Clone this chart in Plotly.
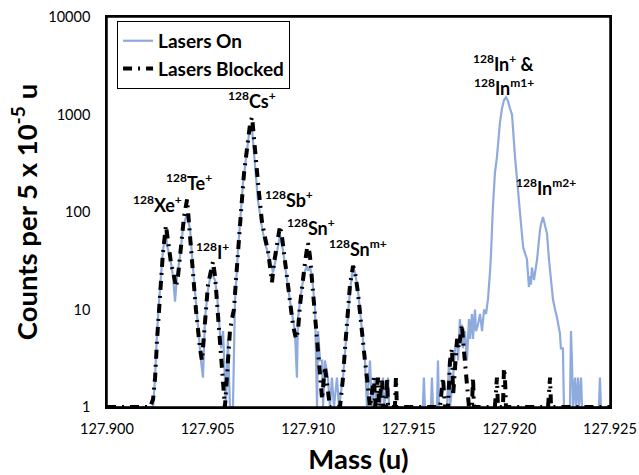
import plotly.graph_objects as go
import math

# ---- Lasers On (mass in u, counts per 5e-5 u) ----
on_mass = [
    127.90000, 127.90214, 127.90229, 127.90239, 127.90249, 127.90263, 127.90278, 127.90293,
    127.90298, 127.90313, 127.90328, 127.90338, 127.90348, 127.90363, 127.90378, 127.90398,
    127.90413, 127.90427, 127.90437, 127.90447, 127.90457, 127.90467, 127.90477, 127.90487,
    127.90502, 127.90512, 127.90522, 127.90527, 127.90537, 127.90547, 127.90557, 127.90567,
    127.90577, 127.90586, 127.90591, 127.90601, 127.90611, 127.90626, 127.90636, 127.90651,
    127.90666, 127.90676, 127.90696, 127.90711, 127.90721, 127.90736, 127.90750, 127.90770,
    127.90785, 127.90800, 127.90810, 127.90820, 127.90825, 127.90835, 127.90845, 127.90860,
    127.90875, 127.90885, 127.90895, 127.90910, 127.90924, 127.90934, 127.90944, 127.90949,
    127.90959, 127.90969, 127.90984, 127.90994, 127.90999, 127.91009, 127.91019, 127.91034,
    127.91044, 127.91049, 127.91059, 127.91069, 127.91074, 127.91083, 127.91098, 127.91108,
    127.91118, 127.91128, 127.91143, 127.91153, 127.91173, 127.91183, 127.91198, 127.91208,
    127.91223, 127.91233, 127.91247, 127.91257, 127.91272, 127.91282, 127.91292, 127.91307,
    127.91317, 127.91332, 127.91337, 127.91357, 127.91372, 127.91377, 127.91397, 127.91402,
    127.91570, 127.91575, 127.91580, 127.91610, 127.91615, 127.91620, 127.91640, 127.91645,
    127.91650, 127.91690, 127.91700, 127.91705, 127.91720, 127.91730, 127.91740, 127.91745,
    127.91754, 127.91759, 127.91764, 127.91769, 127.91779, 127.91789, 127.91799, 127.91804,
    127.91814, 127.91819, 127.91829, 127.91834, 127.91844, 127.91854, 127.91864, 127.91874,
    127.91884, 127.91894, 127.91904, 127.91908, 127.91918, 127.91928, 127.91938, 127.91953,
    127.91963, 127.91973, 127.91983, 127.91993, 127.92003, 127.92013, 127.92028, 127.92038,
    127.92053, 127.92068, 127.92077, 127.92087, 127.92097, 127.92102, 127.92107, 127.92112,
    127.92122, 127.92127, 127.92137, 127.92152, 127.92157, 127.92167, 127.92177, 127.92187,
    127.92197, 127.92202, 127.92217, 127.92227, 127.92236, 127.92251, 127.92256, 127.92266,
    127.92271, 127.92301, 127.92306, 127.92311, 127.92316, 127.92326, 127.92331, 127.92341,
    127.92346, 127.92356, 127.92361, 127.92445, 127.92450, 127.92455, 127.92500,
]
on_counts = [
    1, 1, 1, 2, 6, 16, 40, 65,
    45, 35, 22, 12, 22, 35, 70, 97,
    65, 27, 15, 10, 5, 3, 2, 8,
    16, 22, 27, 22, 20, 14, 8, 4,
    6, 2, 1, 5, 1, 1, 12, 40,
    120, 200, 430, 780, 700, 290, 133, 70,
    48, 38, 30, 27, 24, 30, 40, 58,
    40, 28, 22, 12, 8, 6, 2, 8,
    12, 17, 25, 28, 25, 27, 22, 10,
    1, 6, 3, 3, 1, 3, 2, 1,
    2, 1, 2, 1, 2, 4, 9, 16,
    27, 24, 16, 10, 5, 3, 1, 3,
    1, 2, 1, 1, 2, 1, 2, 1,
    1, 2, 1, 1, 2, 1, 1, 3,
    1, 1, 3, 1, 2, 4, 5, 3,
    8, 5, 7, 4, 6, 3, 8, 5,
    9, 5, 10, 6, 7, 9, 6, 10,
    9, 13, 25, 35, 112, 250, 366, 820,
    1150, 1400, 1500, 1380, 1150, 1000, 366, 212,
    90, 44, 38, 33, 17, 22, 18, 27,
    20, 24, 32, 65, 75, 89, 75, 60,
    32, 24, 12.5, 10, 8.4, 5.7, 4, 4,
    1, 1, 6, 3, 1, 2, 1, 2,
    1, 2, 1, 1, 2, 1, 1,
]

# ---- Lasers Blocked ----
blk_mass = [
    127.90000, 127.90214, 127.90229, 127.90239, 127.90249, 127.90263, 127.90278, 127.90293,
    127.90303, 127.90318, 127.90333, 127.90343, 127.90353, 127.90368, 127.90383, 127.90398,
    127.90408, 127.90422, 127.90432, 127.90442, 127.90452, 127.90462, 127.90472, 127.90482,
    127.90492, 127.90502, 127.90517, 127.90527, 127.90537, 127.90547, 127.90557, 127.90567,
    127.90577, 127.90586, 127.90596, 127.90606, 127.90611, 127.90621, 127.90631, 127.90641,
    127.90651, 127.90666, 127.90681, 127.90696, 127.90711, 127.90721, 127.90731, 127.90741,
    127.90755, 127.90770, 127.90785, 127.90800, 127.90810, 127.90820, 127.90830, 127.90845,
    127.90860, 127.90870, 127.90885, 127.90900, 127.90910, 127.90924, 127.90939, 127.90949,
    127.90959, 127.90969, 127.90984, 127.90994, 127.90999, 127.91009, 127.91019, 127.91029,
    127.91039, 127.91049, 127.91059, 127.91069, 127.91083, 127.91098, 127.91108, 127.91158,
    127.91173, 127.91183, 127.91198, 127.91208, 127.91223, 127.91233, 127.91247, 127.91257,
    127.91272, 127.91282, 127.91292, 127.91307, 127.91327, 127.91332, 127.91347, 127.91352,
    127.91367, 127.91372, 127.91387, 127.91392, 127.91397, 127.91431, 127.91436, 127.91441,
    127.91655, 127.91670, 127.91680, 127.91695, 127.91705, 127.91715, 127.91720, 127.91730,
    127.91740, 127.91749, 127.91759, 127.91764, 127.91769, 127.91779, 127.91789, 127.91799,
    127.91814, 127.91819, 127.91824, 127.91928, 127.91938, 127.91943, 127.91968, 127.91973,
    127.91978, 127.91983, 127.92192, 127.92202, 127.92207, 127.92500,
]
blk_counts = [
    1, 1, 1.2, 2, 5, 14, 38, 73,
    50, 30, 22, 17, 22, 45, 90, 135,
    80, 35, 18, 10, 6, 4, 3, 6,
    10, 18, 25, 31, 22, 12, 6, 3,
    2, 1, 2, 4, 6, 8, 10, 20,
    35, 100, 250, 500, 800, 940, 600, 330,
    160, 80, 55, 40, 28, 19, 30, 50,
    72, 55, 32, 18, 12, 7, 5, 6,
    11, 18, 30, 42, 48, 35, 20, 12,
    7, 4, 2.5, 1.2, 2.6, 1.5, 1, 1,
    2, 4, 10, 18, 28, 24, 15, 9,
    5, 3, 2, 1, 2, 1, 2, 1,
    2, 1, 1, 2, 1, 1, 2, 1,
    1, 2, 1, 1, 3, 4, 1.3, 3,
    5, 4, 6, 7, 5, 3, 2, 1,
    1, 2, 1, 1, 2, 1, 1, 2.5,
    2, 1, 1, 2, 1, 1,
]

x_ticks = [127.900, 127.905, 127.910, 127.915, 127.920, 127.925]
x_ticktext = ["127.900", "127.905", "127.910", "127.915", "127.920", "127.925"]
y_ticks = [1, 10, 100, 1000, 10000]
y_ticktext = ["1", "10", "100", "1000", "10000"]

# peak labels: (mass, counts, isotope text)
label_mass = [127.90253, 127.90408, 127.90522, 127.90721, 127.90905, 127.91014,
              127.91247, 127.91973, 127.91973, 127.92182]
label_counts = [120, 204, 40, 1410, 135, 71, 43, 3400, 1900, 182]
label_base = ["Xe", "Te", "I", "Cs", "Sb", "Sn", "Sn", "In", "In", "In"]
label_sup = ["+", "+", "+", "+", "+", "+", "m+", "+", "m1+", "m2+"]
label_tail = ["", "", "", "", "", "", "", " &", "", ""]

FONT = "Lato"
SUP = "<sup><span style='font-size:12px'>{}</span></sup>"

fig = go.Figure()
fig.add_trace(go.Scatter(
    x=on_mass, y=on_counts, mode="lines", name="<b>Lasers On</b>",
    legendgroup="a",
    line=dict(color="#8FAADC", width=2.2),
))
fig.add_trace(go.Scatter(
    x=blk_mass, y=blk_counts, mode="lines", name="<b>Lasers Blocked</b>",
    legendgroup="b",
    line=dict(color="black", width=4, dash="9px,6px,2px,6px"),
))

for m, c, b, s, tail in zip(label_mass, label_counts, label_base, label_sup, label_tail):
    txt = "<b>" + SUP.format("128") + b + SUP.format(s) + tail + "</b>"
    fig.add_annotation(
        x=m, y=math.log10(c), text=txt, showarrow=False,
        font=dict(family=FONT, size=18, color="black"),
        xanchor="center", yanchor="middle",
    )

# plot-area frame
fig.add_shape(type="rect", xref="paper", yref="paper", x0=0, y0=0, x1=1, y1=1,
              line=dict(color="black", width=1.5), layer="above")

axis_common = dict(
    showline=True, mirror=True, linecolor="black", linewidth=1.5,
    showgrid=False, zeroline=False, ticks="", automargin=False,
    tickfont=dict(family=FONT, size=14.5, color="black"),
)

fig.update_layout(
    width=639, height=475,
    margin=dict(l=107, r=29, t=17, b=68),
    paper_bgcolor="white", plot_bgcolor="white",
    font=dict(family=FONT, color="black"),
    showlegend=True,
    legend=dict(
        x=0.02, y=0.99, xanchor="left", yanchor="top",
        bordercolor="black", borderwidth=1, bgcolor="white",
        font=dict(family=FONT, size=19, color="black"),
        tracegroupgap=0,
    ),
    xaxis=dict(
        range=[127.900, 127.925], tickvals=x_ticks, ticktext=x_ticktext,
        ticklabelstandoff=8,
        title=dict(text="<b>Mass (u)</b>", font=dict(family=FONT, size=27.5, color="black"), standoff=18),
        **axis_common,
    ),
    yaxis=dict(
        type="log", range=[0, 4], tickvals=y_ticks, ticktext=y_ticktext,
        ticklabelstandoff=12,
        title=dict(text="<b>Counts per 5 x 10<sup>-5</sup> u</b>", font=dict(family=FONT, size=27.5, color="black"), standoff=3),
        **axis_common,
    ),
)

fig.write_html(
    "out.html",
    config={"displayModeBar": False},
    post_script="document.body.style.margin='0px';document.body.style.overflow='hidden';",
)
